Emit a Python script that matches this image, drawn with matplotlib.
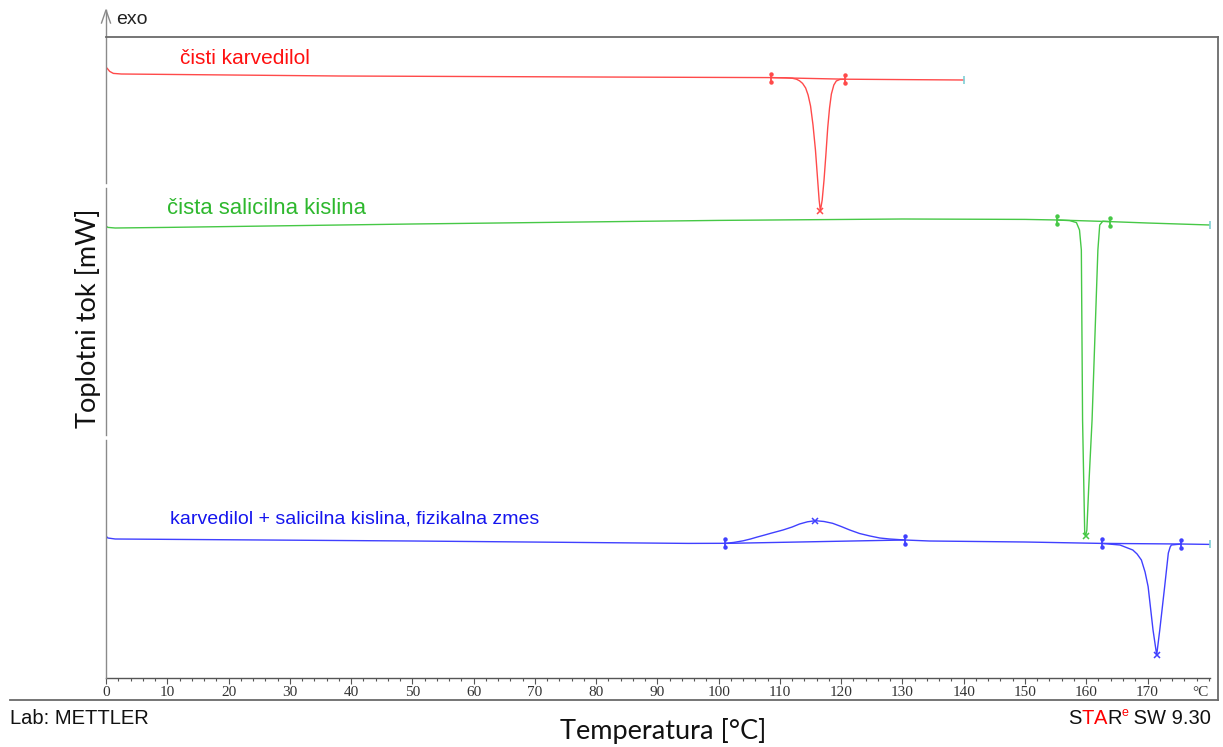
import matplotlib
matplotlib.use("Agg")
import matplotlib.pyplot as plt
from matplotlib.lines import Line2D
from matplotlib.ticker import MultipleLocator

# ---------------- data (heat flow in mW, temperature in °C) ----------------
red_T = [0, 0.15, 0.6, 1.2, 2.5, 38, 80, 108.5, 111.0, 112.0, 112.7, 113.2, 113.7, 114.2, 114.6,
         115.0, 115.4, 115.8, 116.1, 116.4, 116.6, 116.9, 117.2, 117.5, 117.8, 118.1, 118.4, 118.8,
         119.2, 119.8, 120.7, 130, 140]
red_v = [30.40, 30.50, 30.33, 30.23, 30.20, 30.10, 30.05, 30.02, 30.01, 29.99, 29.94, 29.86, 29.73,
         29.50, 29.15, 28.60, 27.65, 26.40, 25.15, 23.90, 23.35, 23.90, 24.90, 26.15, 27.50, 28.50,
         29.20, 29.65, 29.85, 29.93, 29.94, 29.92, 29.90]

green_T = [0, 0.3, 1.5, 10, 50, 100, 130, 150, 155.3, 157.3, 158.4, 158.9, 159.2, 159.4, 159.75,
           159.9, 160.1, 160.4, 160.95, 161.9, 162.2, 162.7, 163.8, 170, 180.2]
green_v = [22.60, 22.53, 22.50, 22.53, 22.70, 22.88, 22.95, 22.93, 22.90, 22.87, 22.77, 22.40,
           21.40, 12.90, 7.25, 7.10, 7.40, 9.50, 12.90, 21.40, 22.65, 22.84, 22.82, 22.75, 22.65]

blue_T = [0, 0.3, 1.5, 50, 95, 101.1, 102.5, 104.0, 105.2, 106.2, 107.4, 108.5, 110.5, 112.0, 113.2,
          114.5, 115.8, 117.2, 118.6, 120.0, 121.4, 123.0, 124.7, 126.3, 127.9, 130.4, 134.4, 150,
          162.5, 165.5, 167.6, 168.3, 169.0, 169.6, 170.1, 170.9, 171.5, 172.0, 172.8, 173.4, 173.7,
          173.9, 175.5, 180.2]
blue_v = [7.10, 7.00, 6.95, 6.85, 6.73, 6.735, 6.78, 6.86, 6.95, 7.04, 7.14, 7.235, 7.40, 7.55,
          7.70, 7.81, 7.865, 7.825, 7.735, 7.575, 7.40, 7.225, 7.10, 7.00, 6.95, 6.90, 6.85, 6.80,
          6.73, 6.65, 6.40, 6.20, 5.90, 5.30, 4.57, 2.40, 1.15, 2.40, 4.57, 6.25, 6.55, 6.65, 6.70,
          6.68]

# integration limits (pairs) and peak positions
red_lim_T, red_lim_v = [108.5, 120.7], [30.02, 29.94]
green_lim_T, green_lim_v = [155.3, 163.8], [22.90, 22.82]
blue_lim_T, blue_lim_v = [101.1, 130.4, 162.5, 175.5], [6.73, 6.90, 6.73, 6.70]
red_peak_T, red_peak_v = [116.6], [23.35]
green_peak_T, green_peak_v = [159.9], [7.10]
blue_peak_T, blue_peak_v = [115.8, 171.5], [7.87, 1.15]

labels = ["čisti karvedilol", "čista salicilna kislina",
          "karvedilol + salicilna kislina, fizikalna zmes"]
label_T = [12.0, 9.9, 10.4]
label_v = [31.0, 23.5, 7.95]

major_ticks = list(range(0, 171, 10))

# ---------------- figure ----------------
W, H = 1223, 747
fig = plt.figure(figsize=(W / 100, H / 100), dpi=100)
fig.patch.set_facecolor("white")


def fx(px):
    return px / W


def fy(py):
    return 1 - py / H


ax = fig.add_axes([fx(106), fy(678), fx(1210) - fx(106), fy(37) - fy(678)])
ax.set_xlim(0, 180.2)
ax.set_ylim(0, 32.05)
for s in ["top", "right", "left"]:
    ax.spines[s].set_visible(False)
ax.spines["bottom"].set_color("#555555")
ax.spines["bottom"].set_linewidth(1.0)
ax.set_yticks([])
ax.xaxis.set_major_locator(MultipleLocator(10))
ax.xaxis.set_minor_locator(MultipleLocator(2))
ax.set_xticks(major_ticks)
ax.set_xticklabels([str(t) for t in major_ticks], fontfamily="Liberation Serif",
                   fontsize=11, color="#333333")
ax.tick_params(axis="x", which="major", length=4, width=0.8, color="#555555", pad=1.5)
ax.tick_params(axis="x", which="minor", length=2.5, width=0.8, color="#555555")
ax.annotate("°C", xy=(178.6, 0), xycoords="data", xytext=(0, -5.5), textcoords="offset points",
            ha="center", va="top", fontfamily="Liberation Serif", fontsize=11, color="#333333")

red_line, red_txt = "#ff4a4a", "#ff1010"
green_line, green_txt = "#46c846", "#2eb82e"
blue_line, blue_txt = "#4040ff", "#1515ee"
cyan = "#7fcfd6"


def draw_curve(T, v, limT, limv, pT, pv, lc):
    ax.plot(T, v, color=lc, lw=1.0, solid_joinstyle="round", zorder=3)
    for i in range(0, len(limT), 2):
        ax.plot(limT[i:i + 2], limv[i:i + 2], color=lc, lw=1.0, zorder=3)
    for t, val in zip(limT, limv):
        ax.plot([t, t], [val - 0.2, val + 0.2], color=lc, lw=1.3, zorder=4, clip_on=False)
        ax.plot([t, t], [val - 0.2, val + 0.2], "o", color=lc, ms=2.2, zorder=4, clip_on=False)
    ax.plot(pT, pv, "x", color=lc, ms=5, mew=1.1, zorder=5, clip_on=False)
    ax.plot([T[-1]], [v[-1]], "|", color=cyan, ms=6, mew=1.2, zorder=5, clip_on=False)


draw_curve(red_T, red_v, red_lim_T, red_lim_v, red_peak_T, red_peak_v, red_line)
draw_curve(green_T, green_v, green_lim_T, green_lim_v, green_peak_T, green_peak_v, green_line)
draw_curve(blue_T, blue_v, blue_lim_T, blue_lim_v, blue_peak_T, blue_peak_v, blue_line)

for lab, t, val, c, fs in zip(labels, label_T, label_v, [red_txt, green_txt, blue_txt],
                              [15, 15.9, 14]):
    ax.text(t, val, lab, color=c, fontsize=fs, fontfamily="Liberation Sans",
            ha="left", va="center")

# ---------------- decoration: axes frame, exo arrow ----------------
axis_col = "#8a8a8a"
frame_col = "#6a6a6a"


def fline(xs, ys, color, lw):
    fig.add_artist(Line2D([fx(x) for x in xs], [fy(y) for y in ys], color=color, lw=lw,
                          transform=fig.transFigure))


# left axis with gaps
fline([106, 106], [10, 183], axis_col, 1.0)
fline([106, 106], [188, 435], axis_col, 1.0)
fline([106, 106], [440, 678], axis_col, 1.0)
# exo arrow head
fline([101.5, 106, 110.5], [23, 10, 23], axis_col, 1.0)
fig.text(fx(116), fy(19), "exo", fontsize=14, fontfamily="Liberation Sans",
         color="#222222", ha="left", va="center")
# frame
fline([106, 1218], [37, 37], frame_col, 1.3)
fline([1218, 1218], [37, 700], frame_col, 1.3)
fline([10, 1218], [700, 700], frame_col, 1.3)

# axis titles
fig.text(fx(88), fy(318), "Toplotni tok [mW]", rotation=90, fontsize=19.5, fontfamily="Lato",
         color="#111111", ha="center", va="center")
fig.text(fx(663), fy(731), "Temperatura [°C]", fontsize=19.5, fontfamily="Lato",
         color="#111111", ha="center", va="center")

# footer texts
fig.text(fx(10), fy(718), "Lab: METTLER", fontsize=14.5, fontfamily="Liberation Sans",
         color="#111111", ha="left", va="center")

t0 = fig.text(fx(1068), fy(718), "S", fontsize=14.5, fontfamily="Liberation Sans",
              color="#111111", ha="left", va="center")
parts = [("T", "#ff0000", 14.5, 0), ("A", "#ff0000", 14.5, 0), ("R", "#111111", 14.5, 0),
         ("e", "#ff0000", 9, 6), (" SW 9.30", "#111111", 14.5, 0)]
prev = t0
for txt, col, fs, dy in parts:
    prev = fig.add_artist(plt.Annotation(
        txt, xy=(1, 0), xycoords=(prev, t0), xytext=(0, dy), textcoords="offset points",
        fontsize=fs, fontfamily="Liberation Sans", color=col, ha="left", va="bottom",
        annotation_clip=False))

fig.savefig("out.png", dpi=100, facecolor="white")
